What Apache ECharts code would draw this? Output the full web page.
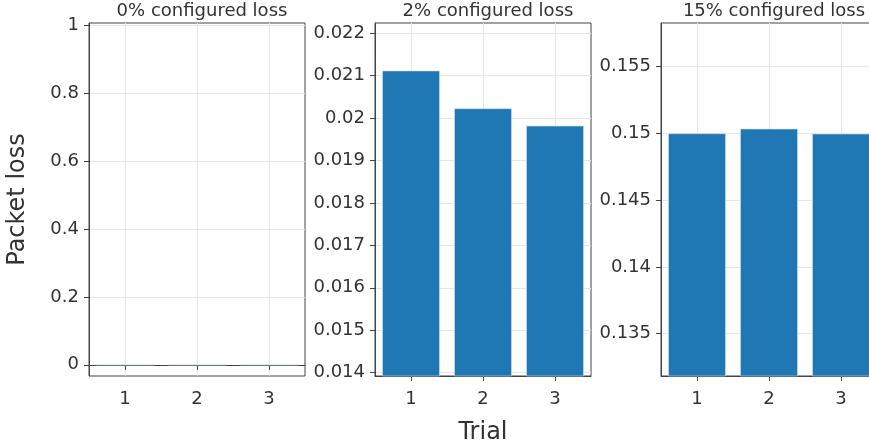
<!DOCTYPE html>
<html>
<head>
<meta charset="utf-8">
<script src="https://cdn.jsdelivr.net/npm/echarts@6/dist/echarts.min.js"></script>
<style>
  html, body { margin: 0; padding: 0; background: #fff; }
  #chart { width: 869px; height: 448px; }
</style>
</head>
<body>
<div id="chart"></div>
<script>
// Trials on the x axis of every panel
const trials = ['1', '2', '3'];

// Panel headings
const panelTitles = ['0% configured loss', '2% configured loss', '15% configured loss'];

// Measured packet loss per trial
const loss0 = [0, 0, 0];
const loss2 = [0.02112, 0.02023, 0.01982];
const loss15 = [0.15, 0.15035, 0.14998];

// Tick values shown on each panel's y axis
const ticks0 = [0, 0.2, 0.4, 0.6, 0.8, 1];
const ticks2 = [0.014, 0.015, 0.016, 0.017, 0.018, 0.019, 0.02, 0.021, 0.022];
const ticks15 = [0.135, 0.14, 0.145, 0.15, 0.155];

const FONT = 'DejaVu Sans';
const TEXT = '#333';
const LINE = '#444';
const GRIDLINE = '#e6e6e6';
const BAR = '#1f77b4';

const panels = [
  { data: loss0, ticks: ticks0, min: -0.033, max: 1.006, split: 5 },
  { data: loss2, ticks: ticks2, min: 0.01392, max: 0.022243, split: 8 },
  { data: loss15, ticks: ticks15, min: 0.131834, max: 0.15827, split: 5 }
];
const lefts = [89, 375, 661];
const plotW = 216, plotTop = 23, plotH = 353;

const fmt = v => String(+Number(v).toFixed(6));

const option = {
  backgroundColor: '#fff',
  animation: false,
  textStyle: { fontFamily: FONT },
  title: panelTitles.map((t, i) => ({
    text: t,
    left: lefts[i] + plotW / 2,
    top: -3,
    textAlign: 'center',
    textStyle: { fontFamily: FONT, fontSize: 18, fontWeight: 'normal', color: TEXT }
  })),
  grid: panels.map((p, i) => ({
    left: lefts[i],
    top: plotTop,
    width: plotW,
    height: plotH,
    containLabel: false,
    outerBoundsMode: 'none',
    show: true,
    borderColor: LINE,
    borderWidth: 1,
    backgroundColor: 'transparent'
  })),
  xAxis: panels.map((p, i) => ({
    type: 'category',
    gridIndex: i,
    data: trials,
    boundaryGap: true,
    name: i === 1 ? 'Trial' : '',
    nameLocation: 'middle',
    nameGap: 45,
    nameTextStyle: { fontFamily: FONT, fontSize: 24, color: TEXT },
    axisLine: { show: true, lineStyle: { color: LINE, width: 1 } },
    axisTick: { show: true, alignWithLabel: true, length: 5, lineStyle: { color: LINE } },
    axisLabel: { fontFamily: FONT, fontSize: 18, color: TEXT, margin: 14 },
    splitLine: { show: true, alignWithLabel: true, lineStyle: { color: GRIDLINE, width: 1 } }
  })),
  yAxis: panels.map((p, i) => ({
    type: 'value',
    gridIndex: i,
    min: p.min,
    max: p.max,
    splitNumber: p.split,
    name: i === 0 ? 'Packet loss' : '',
    nameLocation: 'middle',
    nameRotate: 90,
    nameGap: 59,
    nameTextStyle: { fontFamily: FONT, fontSize: 24, color: TEXT },
    axisLine: { show: true, lineStyle: { color: LINE, width: 1 } },
    axisTick: { show: true, length: 5, customValues: p.ticks, lineStyle: { color: LINE } },
    axisLabel: {
      fontFamily: FONT, fontSize: 18, color: TEXT, margin: 10,
      customValues: p.ticks,
      formatter: fmt
    },
    splitLine: { show: true, lineStyle: { color: GRIDLINE, width: 1 } }
  })),
  series: panels.map((p, i) => ({
    type: 'bar',
    xAxisIndex: i,
    yAxisIndex: i,
    data: p.data,
    barWidth: '80%',
    itemStyle: { color: BAR, borderColor: '#cfe0ee', borderWidth: 0.6 }
  }))
};

const chart = echarts.init(document.getElementById('chart'), null, { renderer: 'canvas' });
chart.setOption(option);
</script>
</body>
</html>
